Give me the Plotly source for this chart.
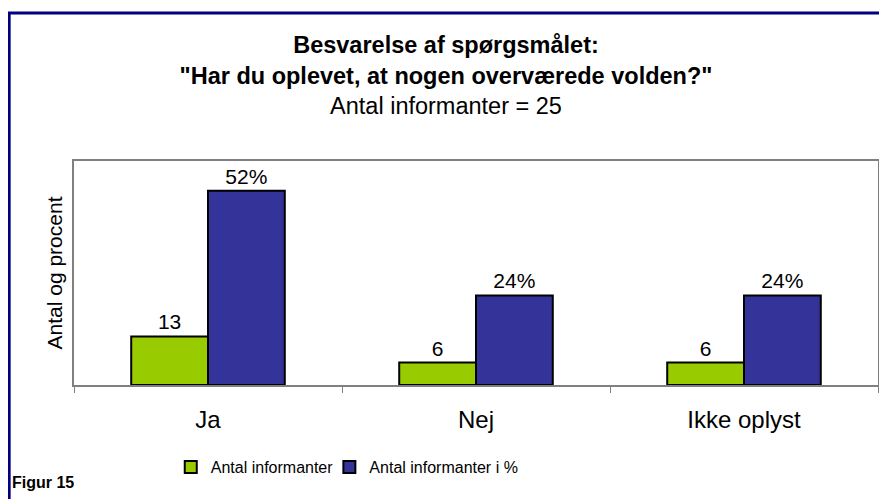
import plotly.graph_objects as go

categories = ["Ja", "Nej", "Ikke oplyst"]
antal = [13, 6, 6]
procent = [52, 24, 24]
series_names = ["Antal informanter", "Antal informanter i %"]

# the page body has an 8px margin, so the figure is a bit smaller than the window
OFF = 8
W, H = 887 - OFF, 499 - OFF
L, R, T, B = 74 - OFF, 7, 161 - OFF, 114
pw, ph = W - L - R, H - T - B


def px_x(x):
    # window pixel -> paper fraction
    return (x - OFF - L) / pw


def px_y(y):
    return (H - B - (y - OFF)) / ph


fig = go.Figure()
fig.add_bar(
    x=categories, y=antal, name=series_names[0], legend="legend",
    marker=dict(color="#99CC00", line=dict(color="black", width=2)),
    text=[str(v) for v in antal], textposition="outside",
    textfont=dict(size=21, color="black"), cliponaxis=False)
fig.add_bar(
    x=categories, y=procent, name=series_names[1], legend="legend2",
    marker=dict(color="#333399", line=dict(color="black", width=2)),
    text=[f"{v}%" for v in procent], textposition="outside",
    textfont=dict(size=21, color="black"), cliponaxis=False)

legend_style = dict(orientation="h", xanchor="left", yanchor="middle",
                    y=px_y(467), font=dict(size=16), bgcolor="rgba(0,0,0,0)")

fig.update_layout(
    width=W, height=H,
    margin=dict(l=L, r=R, t=T, b=B),
    paper_bgcolor="white", plot_bgcolor="white",
    font=dict(family="Liberation Sans, Arial, sans-serif", color="black"),
    barmode="group", bargap=0.427, bargroupgap=0,
    title=dict(
        text="<b>Besvarelse af spørgsmålet:</b><br><b>\"Har du oplevet, at nogen overværede volden?\"</b><br>Antal informanter = 25",
        x=(446 - OFF) / W, xanchor="center", y=1 - (53 - OFF) / H, yanchor="middle",
        font=dict(size=23.5)),
    legend=dict(x=px_x(171), **legend_style),
    legend2=dict(x=px_x(330), **legend_style),
    showlegend=True,
)

fig.update_xaxes(
    showline=True, linecolor="#808080", linewidth=2, mirror=True,
    ticks="outside", tickson="boundaries", ticklen=6, tickcolor="#808080",
    tickfont=dict(size=24), ticklabelstandoff=12, showgrid=False)
fig.update_yaxes(
    range=[0, 60], showline=True, linecolor="#808080", linewidth=2, mirror=True,
    showticklabels=False, ticks="", showgrid=False, zeroline=False,
    title=dict(text="Antal og procent", font=dict(size=21), standoff=4))

# outer navy frame
fig.add_shape(
    type="rect", xref="paper", yref="paper",
    x0=px_x(9), x1=px_x(910), y0=px_y(520), y1=px_y(13),
    line=dict(color="#000080", width=3), fillcolor="rgba(0,0,0,0)",
    layer="below")

fig.add_annotation(
    text="<b>Figur 15</b>", xref="paper", yref="paper",
    x=px_x(10), y=px_y(482), xanchor="left", yanchor="middle",
    showarrow=False, font=dict(size=16))

fig.write_html("out.html")
